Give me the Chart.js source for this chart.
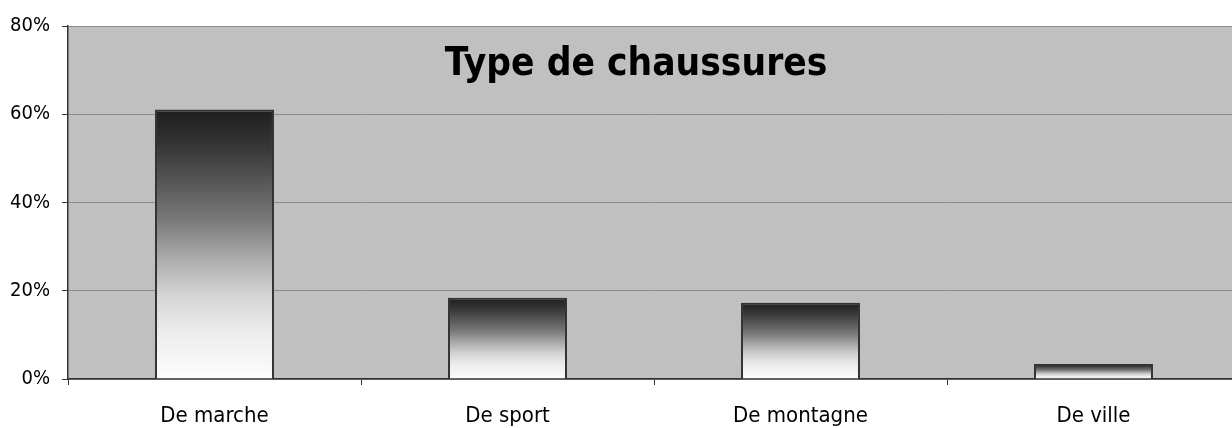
<!DOCTYPE html>
<html><head><meta charset="utf-8">
<script src="https://cdn.jsdelivr.net/npm/chart.js@4/dist/chart.umd.min.js"></script>
<style>html,body{margin:0;padding:0;background:#fff;overflow:hidden;width:1232px;height:428px}
#wrap{width:1240px;height:428px;position:relative}</style>
</head><body><div id="wrap"><canvas id="c" width="1240" height="428"></canvas></div>
<script>
const chartTitle = "Type de chaussures";
const categories = ["De marche", "De sport", "De montagne", "De ville"];
const values = [61.1, 18.4, 17.3, 3.4];
const yTicks = [0, 20, 40, 60, 80];
const FONT = "'DejaVu Sans Condensed','DejaVu Sans',sans-serif";

const bgPlugin = {
  id: 'bg',
  beforeDraw(chart) {
    const {ctx, chartArea: a} = chart;
    ctx.save();
    ctx.fillStyle = '#c0c0c0';
    ctx.fillRect(a.left, a.top, a.right - a.left, a.bottom - a.top);
    ctx.restore();
  },
  afterDatasetsDraw(chart) {
    const {ctx} = chart;
    ctx.save();
    ctx.fillStyle = '#000';
    ctx.font = "bold 38.5px " + FONT;
    ctx.textAlign = 'center';
    ctx.textBaseline = 'alphabetic';
    ctx.fillText(chartTitle, 636, 75);
    ctx.restore();
  }
};

function barGradient(context) {
  const chart = context.chart;
  const a = chart.chartArea;
  if (!a) return '#888';
  const v = context.raw;
  const y = chart.scales.y;
  const top = y.getPixelForValue(v), bottom = y.getPixelForValue(0);
  const g = chart.ctx.createLinearGradient(0, top, 0, bottom);
  g.addColorStop(0, '#1e1e1e');
  g.addColorStop(0.12, '#333333');
  g.addColorStop(0.3, '#5e5e5e');
  g.addColorStop(0.42, '#7c7c7c');
  g.addColorStop(0.55, '#aaaaaa');
  g.addColorStop(0.68, '#d2d2d2');
  g.addColorStop(0.82, '#ececec');
  g.addColorStop(1, '#fdfdfd');
  return g;
}

new Chart(document.getElementById('c'), {
  type: 'bar',
  data: {
    labels: categories,
    datasets: [{
      data: values,
      backgroundColor: barGradient,
      borderColor: '#333333',
      borderWidth: 2,
      barPercentage: 0.406,
      categoryPercentage: 1.0
    }]
  },
  options: {
    responsive: false,
    animation: false,
    devicePixelRatio: 1,
    layout: {padding: {top: 26, left: 0, right: 0, bottom: 0}},
    plugins: {legend: {display: false}, title: {display: false}, tooltip: {enabled: false}},
    scales: {
      x: {
        afterFit(s) { s.height = 49; },
        grid: {offset: true, drawOnChartArea: false, tickLength: 6, tickColor: '#333', lineWidth: 1},
        border: {color: '#333', width: 1.5},
        ticks: {font: {family: FONT, size: 22}, color: '#000', padding: 18, maxRotation: 0}
      },
      y: {
        min: 0, max: 80,
        afterFit(s) { s.width = 68; },
        afterBuildTicks(s) { s.ticks = yTicks.map(v => ({value: v})); },
        grid: {color: '#8c8c8c', tickColor: '#333', tickLength: 6, lineWidth: 1},
        border: {color: '#333', width: 1.5},
        ticks: {font: {family: FONT, size: 20}, color: '#000', padding: 12,
          callback: v => v + '%'}
      }
    }
  },
  plugins: [bgPlugin]
});
</script></body></html>
